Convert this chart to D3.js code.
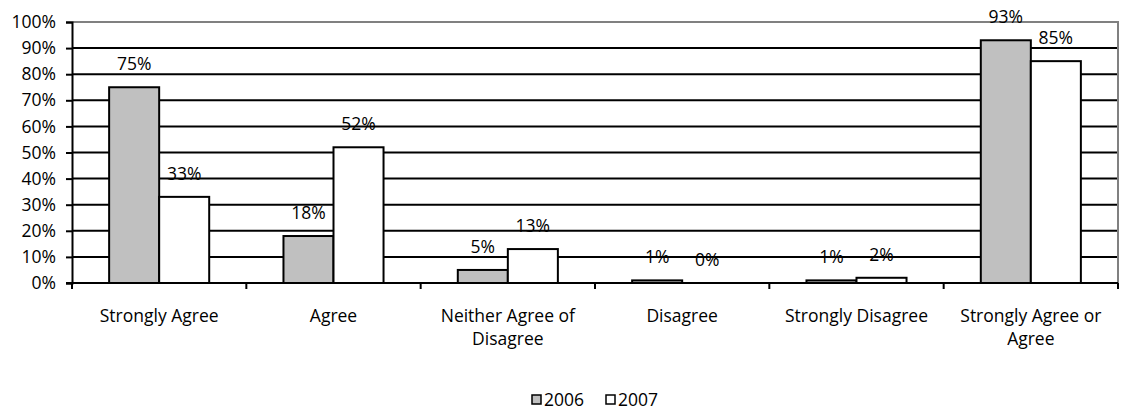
<!DOCTYPE html>
<html>
<head>
<meta charset="utf-8">
<script src="https://cdn.jsdelivr.net/npm/d3@7"></script>
<style>
  body { margin: 0; background: #fff; }
  text { font-family: "Open Sans", "Liberation Sans", sans-serif; font-size: 17.5px; fill: #000; }
</style>
</head>
<body>
<div id="chart"></div>
<script>
// data
var categories = ["Strongly Agree", "Agree", "Neither Agree of Disagree", "Disagree", "Strongly Disagree", "Strongly Agree or Agree"];
var categoryLines = [["Strongly Agree"], ["Agree"], ["Neither Agree of", "Disagree"], ["Disagree"], ["Strongly Disagree"], ["Strongly Agree or", "Agree"]];
var seriesNames = ["2006", "2007"];
var values2006 = [75, 18, 5, 1, 1, 93];
var values2007 = [33, 52, 13, 0, 2, 85];
var yTicks = [0, 10, 20, 30, 40, 50, 60, 70, 80, 90, 100];
var colors = ["#c0c0c0", "#ffffff"];

var margin = {top: 22, right: 3, bottom: 132, left: 72},
    width = 1121 - margin.left - margin.right,
    height = 415 - margin.top - margin.bottom;

var svg = d3.select("#chart")
  .append("svg")
    .attr("width", 1121)
    .attr("height", 415)
  .append("g")
    .attr("transform", "translate(" + margin.left + "," + margin.top + ")");

var x = d3.scaleBand()
    .domain(categories)
    .range([0, width])
    .paddingInner(0.426)
    .paddingOuter(0.213);

var x1 = d3.scaleBand()
    .domain(seriesNames)
    .range([0, x.bandwidth()]);

var y = d3.scaleLinear()
    .domain([0, 100])
    .range([height, 0]);

// gridlines
svg.selectAll(".grid")
  .data(yTicks.filter(function(d) { return d > 0 && d < 100; }))
  .enter()
  .append("line")
    .attr("x1", 0)
    .attr("x2", width)
    .attr("y1", function(d) { return y(d); })
    .attr("y2", function(d) { return y(d); })
    .style("stroke", "#000")
    .style("stroke-width", 2);

// plot border top / right
svg.append("path")
    .attr("d", "M0," + y(100) + "H" + width + "V" + height)
    .style("fill", "none")
    .style("stroke", "#808080")
    .style("stroke-width", 2);

// bars
var table = categories.map(function(c, i) {
  return {cat: c, vals: [values2006[i], values2007[i]]};
});

var groups = svg.selectAll(".grp")
  .data(table)
  .enter()
  .append("g")
    .attr("transform", function(d) { return "translate(" + x(d.cat) + ",0)"; });

groups.selectAll("rect")
  .data(function(d) { return d.vals.map(function(v, j) { return {s: seriesNames[j], v: v, j: j}; }); })
  .enter()
  .append("rect")
    .attr("x", function(d) { return x1(d.s); })
    .attr("y", function(d) { return y(d.v); })
    .attr("width", x1.bandwidth())
    .attr("height", function(d) { return height - y(d.v); })
    .style("fill", function(d) { return colors[d.j]; })
    .style("stroke", "#000")
    .style("stroke-width", 2);

groups.selectAll(".lbl")
  .data(function(d) { return d.vals.map(function(v, j) { return {s: seriesNames[j], v: v}; }); })
  .enter()
  .append("text")
    .attr("x", function(d) { return x1(d.s) + x1.bandwidth() / 2; })
    .attr("y", function(d) { return y(d.v) - 17; })
    .attr("text-anchor", "middle")
    .text(function(d) { return d.v + "%"; });

// y axis
var yAxis = svg.append("g")
    .call(d3.axisLeft(y).tickValues(yTicks).tickSize(6).tickFormat(function(d) { return d + "%"; }));
yAxis.select(".domain").style("stroke", "#000").style("stroke-width", 2);
yAxis.selectAll(".tick line").style("stroke", "#000").style("stroke-width", 2);
yAxis.selectAll("text").attr("x", -16).style("font-size", "17.5px").style("font-family", "'Open Sans', sans-serif");

// x axis
var xAxis = svg.append("g")
    .attr("transform", "translate(0," + height + ")");
xAxis.append("line")
    .attr("x1", -6).attr("x2", width)
    .style("stroke", "#000").style("stroke-width", 2);
var bounds = d3.range(categories.length + 1).map(function(i) { return i * x.step(); });
xAxis.selectAll(".xt")
  .data(bounds)
  .enter()
  .append("line")
    .attr("x1", function(d) { return d; })
    .attr("x2", function(d) { return d; })
    .attr("y1", 0)
    .attr("y2", 6)
    .style("stroke", "#000").style("stroke-width", 2);

xAxis.selectAll(".xl")
  .data(categories)
  .enter()
  .append("text")
    .attr("x", function(d) { return x(d) + x.bandwidth() / 2; })
    .attr("y", 39)
    .attr("text-anchor", "middle")
    .each(function(d, i) {
      var t = d3.select(this);
      categoryLines[i].forEach(function(line, k) {
        t.append("tspan").attr("x", x(d) + x.bandwidth() / 2).attr("dy", k === 0 ? 0 : 23).text(line);
      });
    });

// legend
var legend = svg.append("g")
    .attr("transform", "translate(" + (532 - margin.left) + "," + (395 - margin.top) + ")");
seriesNames.forEach(function(s, i) {
  var lx = i * 74;
  legend.append("rect")
      .attr("x", lx).attr("y", 0).attr("width", 9).attr("height", 9)
      .style("fill", colors[i]).style("stroke", "#000").style("stroke-width", 1.5);
  legend.append("text")
      .attr("x", lx + 12).attr("y", 11)
      .text(s);
});
</script>
</body>
</html>
